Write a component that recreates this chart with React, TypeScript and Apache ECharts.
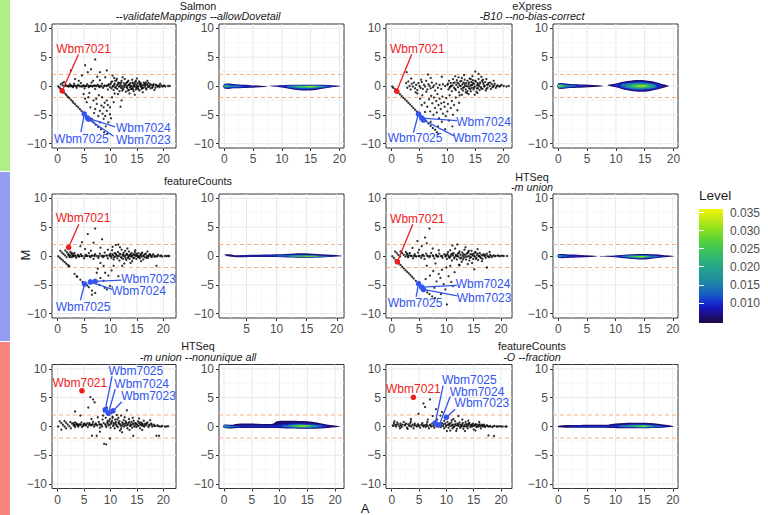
import React, { useEffect, useRef } from 'react';
import * as echarts from 'echarts';

const FONT = '"Liberation Sans", Arial, sans-serif';
const RED = '#ee1c1c';
const BLUE = '#3355ee';

// ---------- axis tick values ----------
const xTicks = [0, 5, 10, 15, 20];
const xMinor = [2.5, 7.5, 12.5, 17.5];
const yTicks = [-10, -5, 0, 5, 10];
const yMinor = [-7.5, -2.5, 2.5, 7.5];
const cutoffs = [2, -2];
const levelTicks = [0.01, 0.015, 0.02, 0.025, 0.03, 0.035];
const LEVEL_MIN = 0.0044;
const LEVEL_MAX = 0.036;
const levelStops: [number, string][] = [
  [0.0044, '#1d0b3e'], [0.0065, '#1e0e7e'], [0.0085, '#1515b8'], [0.0105, '#1638d2'],
  [0.013, '#1a66be'], [0.0155, '#1e86a6'], [0.018, '#229896'], [0.0205, '#27a984'],
  [0.023, '#33b96a'], [0.0255, '#45c84e'], [0.028, '#64d634'], [0.0305, '#8fe11f'],
  [0.033, '#bde915'], [0.036, '#f4f30a'],
];

// ---------- MA points (A, M) ----------
const salmonPts = [
  [0.1,-0.05],[0.3,-0.25],[0.5,-0.45],[0.7,-0.65],[1.0,-0.95],[1.2,-1.15],[1.5,-1.4],[1.7,-1.65],[2.0,-1.9],[2.2,-2.1],[2.5,-2.4],[2.8,-2.65],[3.0,-2.9],[3.3,-3.15],[3.6,-3.45],[3.9,-3.7],[4.2,-4.0],[4.5,-4.3],[4.8,-4.6],[5.3,-5.1],[5.6,-5.35],[6.0,-5.7],[6.4,-6.0],[6.8,-6.3],[7.2,-6.7],[7.7,-7.1],[8.2,-7.5],[8.8,-8.0],[9.4,-8.3],
  [0.6,0.3],[0.9,0.5],[1.2,0.7],[1.5,0.2],[1.8,0.0],[2.1,-0.1],[2.3,0.3],[2.6,0.1],[2.9,-0.2],[3.1,0.4],[3.4,0.0],[3.6,-0.3],[3.9,0.2],[4.1,0.0],[4.4,0.5],[4.6,-0.1],[4.9,0.1],[5.1,-0.4],[5.4,0.0],[5.6,0.3],[5.9,-0.2],[6.1,0.0],[6.4,0.6],[6.6,-0.1],[6.9,0.1],[7.1,-0.5],[7.4,0.0],[7.6,0.2],[7.9,-0.2],[8.1,0.0],[8.4,0.4],[8.6,-0.3],[8.9,0.1],[9.2,0.0],[9.5,-0.6],[9.7,0.3],[2.0,0.0],[3.0,0.0],[4.3,-0.05],[5.0,0.0],[6.2,0.05],[7.0,0.0],
  [2.5,2.7],[3.3,1.2],[4.6,1.8],[5.2,3.6],[5.7,2.4],[6.3,2.9],[7.1,4.6],[7.5,1.6],[8.0,2.4],[8.0,1.0],[9.0,1.5],[9.3,2.7],[11.2,1.25],[6.7,0.9],[4.0,0.9],[10.4,1.8],
  [4.9,-1.4],[5.8,-1.95],[6.8,-2.5],[7.1,-4.0],[8.0,-4.3],[8.7,-3.7],[9.3,-2.5],[9.9,-4.9],[7.7,-5.2],[8.7,-5.7],[9.3,-4.3],[7.4,-3.1],[6.2,-3.7],[5.5,-2.8],[9.9,-3.7],[10.3,-1.95],[8.4,-1.95],[9.0,-5.2],[9.6,-6.3],[10.6,-2.8],[6.5,-5.7],[8.0,-6.3],[6.0,-1.2],[7.8,-1.6],[8.9,-2.9],[9.5,-3.3],[7.3,-2.2],[10.1,-5.6],[6.9,-4.7],[8.3,-3.4],[12.1,-2.5],[11.9,-3.6],[10.8,-1.3],[5.2,-2.2],[9.1,-7.0],[8.5,-4.8],
  [10.0,0.3],[10.2,-0.4],[10.3,0.8],[10.5,0.0],[10.6,-0.7],[10.8,0.4],[10.9,-0.2],[11.1,1.0],[11.2,0.1],[11.3,-0.5],[11.5,0.6],[11.6,-0.1],[11.7,-0.9],[11.9,0.3],[12.0,-0.3],[12.1,0.9],[12.2,0.0],[12.4,-0.6],[12.5,0.5],[12.6,-0.2],[12.7,1.2],[12.8,0.2],[12.9,-1.0],[13.0,-0.1],[13.1,0.6],[13.2,-0.4],[13.3,0.1],[13.4,0.9],[13.5,-0.7],[13.6,0.3],[13.7,-0.2],[13.8,0.5],[13.9,-0.5],[14.0,0.0],[14.1,1.1],[14.2,-0.3],[14.3,0.4],[14.4,-0.9],[14.5,0.1],[14.6,-0.1],[14.7,0.7],[14.8,-0.6],[14.9,0.2],[15.0,-0.2],[15.1,0.5],[15.2,-0.4],[15.3,0.0],[15.4,0.8],[15.5,-0.8],[15.6,0.3],[15.7,-0.1],[15.8,0.4],[15.9,-0.5],[16.0,0.1],[16.2,-0.3],[16.3,0.6],[16.5,-0.1],[16.6,0.2],[16.8,-0.6],[16.9,0.3],[17.1,-0.2],[17.2,0.5],[17.4,0.0],[17.6,-0.4],[17.8,0.2],[18.0,-0.1],[18.2,0.3],[18.5,-0.3],[18.7,0.1],[19.0,0.0],[19.3,-0.2],[19.6,0.1],[20.0,0.0],[20.4,-0.1],[20.9,0.0],[12.3,1.5],[13.6,-1.3],[15.0,1.3],[16.1,-1.1],[11.4,-1.4],[17.0,0.9],[18.3,-0.7],[10.7,1.4],[14.6,-1.5],[19.4,0.4],
];
const salmonBandPts = [
  [9.6,0.1],[9.9,-0.2],[10.1,0.6],[10.4,-0.1],[10.7,0.2],[11.0,-0.3],[11.4,0.3],[11.8,0.0],[12.0,0.6],[12.3,-0.4],[12.6,0.1],[12.9,0.4],[13.1,-0.2],[13.3,-0.8],[13.5,0.2],[13.8,0.0],[14.0,-0.5],[14.2,0.6],[14.4,0.0],[14.6,0.4],[14.9,-0.3],[15.1,0.0],[15.3,-0.6],[15.6,0.6],[15.8,0.0],[16.0,-0.3],[16.3,0.2],[16.5,0.4],[16.7,-0.4],[17.0,0.1],[17.3,-0.1],[17.5,0.3],[17.9,-0.3],[18.1,0.1],[18.6,0.2],[18.9,-0.1],[19.2,0.1],[19.8,-0.1],[20.2,0.1],[21.2,0.0],[10.9,0.9],[12.2,-0.8],[13.2,0.7],[14.3,-0.6],[15.5,0.4],[16.7,0.6],[11.6,0.5],[14.8,0.9],
  [1.0,0.1],[1.4,0.0],[2.4,0.0],[2.7,-0.05],[3.2,0.1],[3.7,0.0],[4.7,0.05],[5.2,0.0],[5.8,0.0],[6.5,0.0],[7.2,0.05],[7.8,0.0],[8.3,-0.05],[8.8,0.0],[9.4,0.1],
];

const expressPts = [
  [0.1,-0.1],[0.3,-0.3],[0.6,-0.55],[0.9,-0.85],[1.2,-1.15],[1.5,-1.45],[1.8,-1.75],[2.1,-2.05],[2.4,-2.3],[2.7,-2.6],[3.0,-2.9],[3.3,-3.2],[3.6,-3.5],[3.9,-3.8],[4.2,-4.1],[4.5,-4.4],[5.2,-5.1],[5.5,-5.4],[5.9,-5.8],[6.2,-6.1],[6.6,-6.5],[7.0,-6.9],[7.4,-7.3],[7.8,-7.6],[8.1,-8.0],[8.4,-8.3],
  [2.6,0.5],[2.8,-0.3],[3.0,0.8],[3.2,0.0],[3.4,-0.6],[3.6,0.4],[3.8,-0.1],[4.0,0.6],[4.2,-0.4],[4.4,0.2],[4.6,-0.7],[4.8,0.5],[5.0,0.0],[5.2,-0.3],[5.4,0.7],[5.6,-0.5],[5.8,0.2],[6.0,-0.1],[6.2,0.9],[6.4,-0.6],[6.6,0.3],[6.8,0.0],[7.0,-0.4],[7.2,0.6],[7.4,-0.2],[7.6,0.1],[7.8,-0.8],[8.0,0.4],[8.3,-0.3],[8.6,0.2],[8.9,-0.5],[9.2,0.3],[9.6,0.0],[3.5,1.3],[5.3,1.1],[7.0,1.4],[4.3,-1.1],[2.7,2.4],[6.5,2.0],[9.0,1.6],
  [10.0,0.2],[10.2,-0.6],[10.3,0.9],[10.5,-0.1],[10.6,0.5],[10.8,-0.9],[10.9,0.1],[11.0,1.2],[11.2,-0.3],[11.3,0.6],[11.5,-0.7],[11.6,0.2],[11.7,1.0],[11.9,-0.2],[12.0,0.4],[12.1,-1.1],[12.3,0.8],[12.4,0.0],[12.5,-0.5],[12.6,1.4],[12.7,0.3],[12.8,-0.8],[12.9,0.6],[13.0,-0.2],[13.1,1.1],[13.2,0.1],[13.3,-0.6],[13.4,0.5],[13.5,-1.2],[13.6,0.9],[13.7,-0.1],[13.8,0.3],[13.9,-0.4],[14.0,1.3],[14.1,0.0],[14.2,-0.9],[14.3,0.7],[14.4,-0.3],[14.5,0.2],[14.6,1.0],[14.7,-0.6],[14.8,0.4],[14.9,-0.1],[15.0,2.5],[15.1,0.8],[15.2,-1.0],[15.3,0.1],[15.4,0.5],[15.5,-0.4],[15.6,1.2],[15.7,0.0],[15.8,-0.7],[15.9,0.6],[16.0,-0.2],[16.2,0.9],[16.3,-0.5],[16.5,0.3],[16.6,-0.1],[16.8,0.7],[16.9,-0.8],[17.1,0.2],[17.2,-0.3],[17.4,0.5],[17.6,0.0],[17.8,-0.5],[18.0,0.3],[18.2,-0.1],[18.5,0.4],[18.7,-0.3],[19.0,0.1],[19.3,-0.1],[19.7,0.2],[20.1,0.0],[20.6,-0.1],[21.0,0.0],[13.0,1.9],[14.5,1.7],[16.1,1.6],[12.2,-1.6],[14.9,-1.5],[17.0,1.2],[11.4,1.7],[15.6,2.1],[13.8,-1.4],[18.3,0.9],
  [4.6,-1.3],[5.1,-2.2],[5.5,-1.6],[5.9,-2.9],[6.2,-1.0],[6.4,-3.6],[6.7,-2.3],[6.9,-4.4],[7.1,-1.7],[7.3,-3.0],[7.5,-5.0],[7.6,-2.0],[7.8,-3.8],[8.0,-2.6],[8.1,-4.6],[8.2,-1.4],[8.4,-3.3],[8.5,-5.6],[8.6,-2.2],[8.8,-4.0],[8.9,-3.0],[9.0,-6.2],[9.1,-1.8],[9.2,-4.8],[9.4,-2.8],[9.5,-3.6],[9.7,-5.2],[9.8,-2.1],[10.0,-4.4],[10.1,-3.1],[10.3,-6.0],[10.4,-1.6],[10.6,-3.8],[10.8,-2.6],[11.0,-5.0],[11.2,-3.3],[11.5,-2.0],[11.8,-4.2],[12.1,-2.9],[7.0,-6.2],[8.3,-7.0],[9.6,-7.5],[6.0,-4.5],[5.4,-3.3],[10.9,-7.0],[12.6,-1.5],
];
const expressBandPts = [
  [10.1,0.4],[10.4,-0.3],[10.7,0.0],[11.1,0.5],[11.4,-0.5],[11.8,0.6],[12.2,0.1],[12.5,0.9],[12.8,-0.3],[13.1,0.4],[13.4,0.0],[13.6,-0.9],[13.9,0.6],[14.1,-0.5],[14.3,0.2],[14.6,0.5],[14.8,-0.3],[15.0,0.9],[15.3,-0.4],[15.5,0.2],[15.8,0.4],[16.1,-0.4],[16.4,0.6],[16.7,0.0],[17.0,-0.5],[17.3,0.3],[17.7,0.6],[18.1,-0.2],[18.4,0.1],[18.9,0.0],[19.5,0.0],[12.0,1.5],[14.2,1.2],[16.4,1.1],[13.3,-1.1],[15.4,-1.2],
];

const fcPts = [
  [0.5,0.9],[0.8,0.6],[1.1,0.35],[1.4,0.1],[1.7,-0.2],[1.45,0.95],[1.75,0.65],[2.05,0.4],[2.35,0.1],[2.65,-0.2],[2.4,0.75],[2.7,0.5],[3.0,0.3],[3.3,0.05],
  [0.1,-0.05],[0.4,-0.3],[0.7,-0.55],[1.0,-0.8],[1.3,-1.05],[1.6,-1.3],[1.9,-1.55],[2.2,-1.8],[3.2,-3.1],[3.7,-3.6],[4.3,-4.1],[4.7,-4.5],[5.6,-5.1],[6.5,-6.0],[7.1,-6.4],[5.9,-5.4],
  [2.0,0.2],[2.3,-0.2],[2.6,0.4],[2.9,0.0],[3.2,0.5],[3.5,-0.3],[3.8,0.2],[4.1,-0.1],[4.4,0.3],[4.7,0.0],[5.0,-0.4],[5.3,0.2],[5.6,0.0],[5.9,0.5],[6.2,-0.2],[6.5,0.1],[6.8,-0.5],[7.1,0.3],[7.4,0.0],[7.7,-0.3],[8.0,0.4],[8.3,0.0],[8.6,-0.2],[8.9,0.6],[9.2,0.1],[9.5,-0.4],[9.8,0.2],[3.0,-0.05],[4.0,0.05],[5.2,-0.05],[6.0,0.0],[7.0,0.0],[8.5,0.05],
  [7.1,4.75],[5.7,3.8],[4.6,2.4],[4.3,1.7],[6.8,2.3],[8.1,1.45],[8.4,2.9],[5.2,1.2],[9.5,1.1],[6.3,0.9],
  [2.1,-1.7],[8.1,-1.2],[8.7,-1.7],[9.0,-2.9],[7.4,-2.9],[8.1,-3.8],[8.7,-4.3],[9.3,-5.8],[9.9,-5.2],[6.5,-6.7],[18.7,-1.7],[11.5,-3.5],[10.6,-1.7],[3.6,-3.5],[7.6,-2.2],[9.6,-3.4],[10.2,-2.5],[7.9,-5.0],[8.9,-5.5],[6.1,-4.4],
  [10.0,0.4],[10.2,-0.3],[10.3,1.0],[10.5,0.1],[10.6,-0.6],[10.8,0.5],[10.9,-0.1],[11.0,1.9],[11.1,0.2],[11.3,-0.4],[11.4,0.7],[11.6,0.0],[11.7,-0.8],[11.9,0.3],[12.0,-0.2],[12.1,1.1],[12.3,0.1],[12.4,-0.5],[12.5,0.6],[12.7,-0.1],[12.8,0.9],[12.9,0.2],[13.0,-0.7],[13.1,0.4],[13.3,-0.3],[13.4,0.0],[13.5,0.8],[13.6,-0.5],[13.7,0.2],[13.9,-0.1],[14.0,0.5],[14.1,-0.9],[14.2,0.1],[14.4,0.3],[14.5,-0.3],[14.6,0.7],[14.8,0.0],[14.9,-0.5],[15.0,0.2],[15.2,-0.2],[15.3,0.5],[15.4,0.0],[15.6,-0.4],[15.7,0.3],[15.9,-0.1],[16.0,0.6],[16.2,-0.6],[16.3,0.1],[16.5,-0.2],[16.7,0.4],[16.9,0.0],[17.1,-0.3],[17.3,0.2],[17.6,0.0],[17.8,-0.2],[18.1,0.3],[18.4,0.0],[18.7,-0.1],[19.0,0.2],[19.4,0.0],[19.8,-0.1],[20.3,0.0],[20.9,0.0],[11.8,1.5],[13.2,1.3],[12.6,-1.3],[14.7,1.0],[15.8,-0.9],[10.4,1.6],[12.2,-1.7],[11.5,2.0],[13.8,-1.2],[17.0,0.8],
];
const fcBandPts = [
  [10.1,0.0],[10.4,0.3],[10.7,-0.2],[11.0,0.4],[11.3,0.0],[11.7,0.4],[12.1,-0.3],[12.4,0.3],[12.6,0.0],[12.9,-0.4],[13.2,0.2],[13.5,-0.1],[13.8,0.3],[14.1,0.0],[14.3,-0.4],[14.6,0.2],[14.9,0.4],[15.1,0.0],[15.4,-0.2],[15.7,0.1],[15.9,0.4],[16.2,0.0],[16.5,0.3],[16.8,-0.3],[17.2,0.0],[17.5,0.3],[17.9,0.1],[18.3,-0.1],[18.9,0.0],[19.6,0.1],[20.6,0.0],[21.1,0.0],
  [2.2,0.0],[2.8,0.1],[3.4,0.0],[3.9,-0.05],[4.5,0.0],[5.5,0.05],[6.4,0.0],[6.9,0.1],[7.8,0.0],[8.8,0.0],[9.4,0.05],[9.9,0.0],
];

const htseqPts = [
  [0.1,-0.05],[0.4,-0.35],[0.7,-0.7],[1.0,-1.0],[1.3,-1.3],[1.6,-1.55],[1.9,-1.85],[2.2,-2.15],[2.5,-2.45],[2.8,-2.75],[3.1,-3.0],[3.4,-3.3],[3.7,-3.6],[4.0,-3.9],[4.4,-4.3],[5.3,-5.2],[5.7,-5.6],[6.1,-5.9],[6.5,-6.3],[6.9,-6.6],[7.4,-7.0],[7.9,-7.3],
  [0.6,0.8],[0.9,0.5],[1.2,0.2],[1.5,-0.1],[1.6,0.8],[1.9,0.5],[2.2,0.2],[2.5,-0.1],[2.6,0.7],[2.9,0.4],[3.2,0.1],
  [2.7,0.3],[3.0,-0.2],[3.3,0.5],[3.6,0.0],[3.9,-0.4],[4.2,0.3],[4.5,-0.1],[4.8,0.6],[5.1,0.0],[5.4,-0.3],[5.7,0.2],[6.0,-0.5],[6.3,0.4],[6.6,0.0],[6.9,-0.2],[7.2,0.5],[7.5,0.1],[7.8,-0.4],[8.1,0.2],[8.4,-0.1],[8.7,0.4],[9.0,0.0],[9.3,-0.3],[9.6,0.3],[9.9,-0.1],[4.0,0.0],[5.5,0.05],[7.0,0.0],[8.5,-0.05],
  [6.9,4.75],[4.7,2.6],[5.5,1.7],[6.1,3.2],[5.0,1.1],[7.5,1.3],[8.6,1.0],[3.8,1.4],[6.4,2.2],
  [6.4,-1.7],[7.6,-2.6],[8.9,-3.8],[10.4,-3.5],[9.5,-4.9],[10.1,-8.4],[10.7,-1.7],[17.4,-2.0],[7.0,-3.4],[8.2,-4.4],[9.2,-2.4],[9.8,-5.8],[8.0,-1.3],[10.9,-4.5],[6.2,-4.0],[7.8,-5.5],[9.0,-6.6],[11.5,-2.8],[8.6,-3.1],[10.0,-2.0],[11.2,-5.2],[12.4,-1.6],
  [10.0,0.2],[10.1,-0.5],[10.3,0.7],[10.4,0.0],[10.6,-0.3],[10.7,1.0],[10.9,0.3],[11.0,-0.8],[11.2,0.1],[11.3,0.5],[11.5,-0.2],[11.6,1.3],[11.8,0.0],[11.9,-0.6],[12.1,0.4],[12.2,-0.1],[12.4,0.8],[12.5,-0.4],[12.6,0.2],[12.8,-1.0],[12.9,0.6],[13.0,0.0],[13.2,-0.3],[13.3,1.1],[13.4,0.2],[13.6,-0.6],[13.7,0.4],[13.8,-0.1],[14.0,0.7],[14.1,0.0],[14.2,-0.8],[14.4,0.3],[14.5,-0.2],[14.6,0.9],[14.8,0.1],[14.9,-0.5],[15.0,0.4],[15.2,-0.1],[15.3,0.6],[15.5,-0.3],[15.6,0.2],[15.8,-0.7],[15.9,0.0],[16.1,0.5],[16.2,-0.2],[16.4,0.2],[16.6,-0.5],[16.8,0.3],[17.0,0.0],[17.2,-0.3],[17.4,0.4],[17.7,-0.1],[18.0,0.2],[18.3,-0.2],[18.6,0.1],[19.0,0.0],[19.4,0.1],[19.9,0.0],[20.5,0.0],[21.1,0.0],[11.1,1.8],[12.3,-1.5],[13.5,1.5],[14.7,-1.2],[15.7,1.2],[16.5,-0.9],[12.0,2.0],[13.9,-1.4],[17.9,0.7],[15.1,-2.3],
];
const htseqBandPts = [
  [10.2,0.3],[10.5,-0.2],[10.8,0.0],[11.1,0.4],[11.4,-0.4],[11.7,0.2],[12.0,0.0],[12.3,0.5],[12.7,-0.3],[13.1,0.3],[13.5,-0.1],[13.9,0.5],[14.3,-0.3],[14.7,0.3],[15.1,0.0],[15.4,-0.5],[15.7,0.4],[16.0,0.0],[16.3,-0.3],[16.7,0.1],[17.1,0.2],[17.5,0.0],[17.8,-0.2],[18.2,0.0],[18.8,0.0],[19.6,0.0],[20.2,0.05],[13.0,-0.6],[14.1,0.9],[15.3,0.7],
  [2.9,0.0],[3.5,0.05],[4.3,0.0],[4.9,0.0],[5.9,0.0],[6.5,0.05],[7.6,0.0],[8.2,0.0],[9.2,0.0],[9.8,0.0],
];

const htseqNuPts = [
  [0.4,0.9],[0.7,0.6],[1.0,0.3],[1.3,0.0],[1.6,-0.3],[1.3,0.95],[1.6,0.65],[1.9,0.35],[2.2,0.05],[2.5,-0.3],[2.4,0.8],[2.7,0.5],[3.0,0.2],[3.3,-0.1],[3.3,0.7],[3.6,0.4],[3.9,0.15],[0.1,0.0],[0.7,-0.55],
  [3.0,0.6],[3.3,0.2],[3.6,0.5],[3.9,0.0],[4.2,0.4],[4.5,0.7],[4.8,0.1],[5.1,0.5],[5.4,0.3],[5.7,-0.1],[6.0,0.6],[6.3,0.2],[6.6,0.4],[6.9,0.0],[7.2,0.5],[7.5,0.2],[7.8,0.8],[8.1,0.3],[8.4,0.0],[8.7,0.6],[4.0,0.3],[5.0,0.3],[6.1,0.35],[7.0,0.3],[5.6,0.55],[4.6,-0.1],[6.7,0.8],[8.0,-0.2],
  [6.2,5.1],[6.7,4.7],[7.0,4.2],[5.8,3.3],[3.3,2.6],[4.3,1.9],[13.1,2.8],[8.6,1.9],[8.8,2.6],[9.1,1.5],[9.3,3.3],[9.7,2.0],[9.9,1.3],[10.2,2.4],[10.4,1.7],[10.7,2.9],[10.9,1.2],[11.2,2.0],[11.5,1.5],[8.5,1.2],[9.5,1.0],[12.0,1.9],[7.6,1.6],[6.4,1.3],
  [6.5,-1.6],[7.4,-1.6],[8.8,-3.0],[9.2,-3.1],[9.9,-2.1],[14.3,-1.6],[18.7,-1.6],[19.2,-1.6],[8.0,-0.9],[12.2,-1.0],
  [9.0,0.4],[9.2,-0.1],[9.4,0.7],[9.6,0.2],[9.8,0.9],[10.0,-0.2],[10.1,0.5],[10.3,1.0],[10.5,0.1],[10.6,0.6],[10.8,-0.3],[11.0,0.8],[11.1,0.3],[11.3,1.2],[11.4,-0.1],[11.6,0.5],[11.7,0.9],[11.9,0.2],[12.0,-0.4],[12.2,0.7],[12.3,0.3],[12.5,1.1],[12.6,0.0],[12.8,0.5],[12.9,0.9],[13.1,0.2],[13.2,-0.3],[13.4,0.6],[13.5,1.3],[13.7,0.1],[13.8,0.4],[14.0,0.8],[14.1,-0.2],[14.3,0.5],[14.4,1.0],[14.6,0.2],[14.7,0.6],[14.9,-0.1],[15.0,0.4],[15.2,0.9],[15.3,0.1],[15.5,0.5],[15.6,-0.3],[15.8,0.7],[15.9,0.2],[16.1,0.4],[16.3,1.0],[16.4,0.0],[16.6,0.5],[16.8,0.2],[17.0,0.7],[17.2,-0.1],[17.4,0.3],[17.7,0.5],[17.9,0.0],[18.2,0.3],[18.5,0.1],[18.9,0.2],[19.3,0.0],[19.8,0.1],[20.3,0.0],[20.9,0.05],[12.7,1.6],[14.2,1.5],[11.8,-0.7],[15.4,1.4],[13.6,-0.6],[16.0,-0.6],[10.4,1.5],[17.5,1.1],
];
const htseqNuBandPts = [
  [9.1,0.2],[9.5,0.5],[9.9,0.3],[10.2,0.7],[10.6,0.3],[10.9,0.5],[11.2,0.1],[11.5,0.7],[11.8,0.4],[12.1,0.0],[12.4,0.5],[12.7,0.2],[13.0,0.6],[13.3,0.3],[13.6,0.8],[13.9,0.2],[14.2,0.4],[14.5,0.0],[14.8,0.5],[15.1,0.2],[15.4,0.7],[15.7,0.3],[16.0,0.5],[16.2,0.1],[16.5,0.3],[16.9,0.5],[17.3,0.2],[17.8,0.3],[18.3,0.1],[19.0,0.1],[19.6,0.0],[20.6,0.0],
  [3.1,0.3],[3.7,0.3],[4.4,0.3],[4.9,0.4],[5.3,0.2],[5.9,0.3],[6.5,0.3],[7.3,0.3],[7.9,0.4],[8.3,0.3],
];

const fcFracPts = [
  [0.2,0.2],[0.4,0.6],[0.6,0.3],[0.8,0.0],[1.0,0.7],[1.2,0.4],[1.4,0.1],[1.6,0.5],[1.8,-0.1],[2.0,0.3],[2.2,0.8],[2.4,0.2],[2.6,0.5],[2.8,-0.2],[3.0,0.4],[3.2,0.1],[3.4,0.6],[3.6,0.0],[3.8,0.3],[4.0,-0.3],[4.2,0.5],[4.4,0.2],[4.6,0.0],[4.8,0.4],[5.0,0.1],[5.2,-0.2],[5.4,0.3],[5.6,0.6],[5.8,0.0],[6.0,0.2],[6.2,-0.1],[6.4,0.4],[6.6,0.1],[6.8,-0.3],[7.0,0.3],[7.2,0.0],[7.4,0.5],[7.6,0.1],[7.8,-0.2],[8.0,0.4],[8.3,0.0],[8.6,0.2],[0.5,0.9],[1.5,-0.3],[3.5,0.9],[6.5,0.8],[2.9,-0.4],
  [5.8,4.0],[6.1,3.4],[7.0,4.7],[8.1,3.0],[4.9,2.2],[9.2,2.5],[3.5,1.3],[7.5,1.8],[8.3,1.2],[8.9,1.9],[9.6,1.0],[10.3,1.6],[11.0,1.1],[6.6,1.2],[12.2,1.8],
  [17.7,-1.55],[18.7,-1.65],[10.7,-0.7],[11.8,-0.8],[15.3,-0.7],
  [8.8,0.3],[9.0,-0.1],[9.2,0.6],[9.4,0.1],[9.6,-0.3],[9.8,0.5],[10.0,0.2],[10.2,0.8],[10.4,-0.2],[10.5,0.4],[10.7,0.1],[10.9,0.7],[11.1,-0.3],[11.2,0.3],[11.4,0.0],[11.6,0.9],[11.7,0.2],[11.9,-0.4],[12.0,0.5],[12.2,0.1],[12.4,0.7],[12.5,-0.2],[12.7,0.3],[12.8,0.0],[13.0,0.6],[13.1,-0.4],[13.3,0.2],[13.5,0.8],[13.6,0.0],[13.8,0.4],[13.9,-0.3],[14.1,0.2],[14.2,0.6],[14.4,-0.1],[14.6,0.3],[14.7,0.0],[14.9,0.5],[15.0,-0.5],[15.2,0.2],[15.4,0.4],[15.5,-0.1],[15.7,0.3],[15.9,0.0],[16.1,0.4],[16.3,-0.3],[16.5,0.2],[16.7,0.0],[16.9,0.3],[17.1,-0.1],[17.4,0.2],[17.7,0.0],[18.0,0.1],[18.4,-0.1],[18.8,0.1],[19.2,0.0],[19.7,0.05],[20.3,0.0],[20.8,0.0],[11.3,1.3],[12.9,1.2],[14.0,1.0],[10.1,-0.8],[13.4,-0.8],[16.0,0.8],
];
const fcFracBandPts = [
  [9.1,0.2],[9.5,0.4],[9.9,0.0],[10.3,0.3],[10.6,0.5],[11.0,0.2],[11.3,-0.1],[11.6,0.4],[12.0,0.2],[12.3,0.4],[12.6,0.1],[12.9,0.3],[13.2,0.0],[13.5,0.4],[13.8,0.1],[14.1,0.5],[14.4,0.2],[14.7,0.3],[15.0,0.1],[15.3,0.3],[15.6,0.0],[16.0,0.2],[16.3,0.1],[16.6,0.3],[17.0,0.1],[17.5,0.1],[18.0,0.0],[18.6,0.05],[19.4,0.0],[20.0,0.0],[21.0,0.0],
  [0.3,0.1],[0.9,0.3],[1.7,0.2],[2.5,0.3],[3.3,0.2],[4.1,0.2],[4.9,0.2],[5.7,0.2],[6.3,0.2],[7.1,0.2],[7.9,0.2],[8.4,0.2],
];

// ---------- labelled genes: point (a,m), label centre (la,lm), segment start (sa,sm) ----------
type Lab = { gene: string; a: number; m: number; la: number; lm: number; sa: number | null; sm: number | null; color: string };
const salmonLabels: Lab[] = [
  { gene: 'Wbm7021', a: 0.85, m: -0.85, la: 4.9, lm: 6.5, sa: 3.95, sm: 5.5, color: RED },
  { gene: 'Wbm7025', a: 5.04, m: -4.86, la: 4.5, lm: -9.15, sa: 4.4, sm: -8.0, color: BLUE },
  { gene: 'Wbm7024', a: 5.66, m: -5.56, la: 16.2, lm: -7.3, sa: 10.9, sm: -7.1, color: BLUE },
  { gene: 'Wbm7023', a: 5.85, m: -5.75, la: 16.2, lm: -9.3, sa: 10.6, sm: -8.7, color: BLUE },
];
const expressLabels: Lab[] = [
  { gene: 'Wbm7021', a: 0.9, m: -0.9, la: 4.6, lm: 6.5, sa: 3.6, sm: 5.5, color: RED },
  { gene: 'Wbm7025', a: 4.8, m: -4.86, la: 4.2, lm: -9.1, sa: 3.9, sm: -8.1, color: BLUE },
  { gene: 'Wbm7024', a: 5.4, m: -5.56, la: 16.5, lm: -6.3, sa: 11.7, sm: -6.0, color: BLUE },
  { gene: 'Wbm7023', a: 5.7, m: -5.9, la: 15.9, lm: -8.95, sa: 11.2, sm: -8.65, color: BLUE },
];
const fcLabels: Lab[] = [
  { gene: 'Wbm7021', a: 2.08, m: 1.5, la: 4.8, lm: 6.6, sa: 4.0, sm: 5.5, color: RED },
  { gene: 'Wbm7025', a: 5.1, m: -4.85, la: 4.8, lm: -8.85, sa: 4.3, sm: -7.7, color: BLUE },
  { gene: 'Wbm7023', a: 7.1, m: -4.4, la: 17.2, lm: -4.0, sa: 12.1, sm: -4.2, color: BLUE },
  { gene: 'Wbm7024', a: 6.2, m: -4.5, la: 15.3, lm: -6.1, sa: 10.3, sm: -5.8, color: BLUE },
];
const htseqLabels: Lab[] = [
  { gene: 'Wbm7021', a: 1.03, m: -1.0, la: 4.7, lm: 6.5, sa: 3.85, sm: 5.5, color: RED },
  { gene: 'Wbm7025', a: 4.9, m: -4.8, la: 4.25, lm: -8.1, sa: 4.46, sm: -7.1, color: BLUE },
  { gene: 'Wbm7024', a: 5.5, m: -5.4, la: 16.7, lm: -4.85, sa: 11.9, sm: -5.1, color: BLUE },
  { gene: 'Wbm7023', a: 5.8, m: -5.8, la: 16.9, lm: -7.3, sa: 12.0, sm: -6.9, color: BLUE },
];
const htseqNuLabels: Lab[] = [
  { gene: 'Wbm7021', a: 4.6, m: 6.2, la: 4.2, lm: 7.55, sa: null, sm: null, color: RED },
  { gene: 'Wbm7025', a: 9.0, m: 2.9, la: 14.8, lm: 9.6, sa: 10.3, sm: 8.7, color: BLUE },
  { gene: 'Wbm7024', a: 9.6, m: 2.3, la: 15.9, lm: 7.4, sa: 10.9, sm: 6.5, color: BLUE },
  { gene: 'Wbm7023', a: 10.45, m: 2.7, la: 17.2, lm: 5.3, sa: 12.15, sm: 4.3, color: BLUE },
];
const fcFracLabels: Lab[] = [
  { gene: 'Wbm7021', a: 3.96, m: 5.06, la: 3.96, lm: 6.5, sa: null, sm: null, color: RED },
  { gene: 'Wbm7025', a: 7.95, m: 0.6, la: 14.2, lm: 8.1, sa: 9.4, sm: 7.1, color: BLUE },
  { gene: 'Wbm7024', a: 8.7, m: 0.26, la: 15.6, lm: 6.05, sa: 10.7, sm: 5.2, color: BLUE },
  { gene: 'Wbm7023', a: 10.0, m: 1.6, la: 16.5, lm: 4.0, sa: 11.6, sm: 3.0, color: BLUE },
];

// ---------- density contour bands: [level, outline (A, M)] ----------
type Band = [number, number[][]];
const salmonDensity: Band[] = [
  [0.006, [[0,0.35],[2,0.3],[4.5,0.15],[7.4,-0.05],[7.4,-0.12],[4.5,-0.3],[2,-0.4],[0,-0.42]]],
  [0.0095, [[0,0.28],[2,0.2],[4,0.05],[5.5,-0.08],[5.5,-0.15],[4,-0.25],[2,-0.32],[0,-0.35]]],
  [0.014, [[0,0.2],[1.5,0.12],[3,0.0],[3,-0.12],[1.5,-0.22],[0,-0.27]]],
  [0.019, [[0,0.12],[1.3,0.02],[1.3,-0.1],[0,-0.17]]],
  [0.024, [[0.1,0.06],[0.8,-0.02],[0.1,-0.1]]],
  [0.006, [[7.9,0.05],[10,0.15],[13,0.2],[16,0.2],[18.5,0.15],[20.1,0.05],[20.1,-0.05],[18,-0.3],[15.5,-0.72],[13,-0.75],[11,-0.45],[9,-0.15],[7.9,0.0]]],
  [0.0095, [[9.5,0.05],[12,0.13],[15,0.15],[17.5,0.1],[19,0.0],[19,-0.12],[17,-0.35],[15,-0.6],[13,-0.6],[11,-0.35],[9.5,-0.05]]],
  [0.014, [[11,0.05],[13.5,0.1],[16,0.08],[18,0.0],[18,-0.15],[16,-0.4],[13.5,-0.45],[11,-0.2]]],
  [0.019, [[12,0.0],[14.5,0.05],[17,0.0],[17,-0.15],[15,-0.35],[12.5,-0.3]]],
  [0.025, [[13,-0.05],[15,0.0],[16.5,-0.08],[16.5,-0.15],[15,-0.28],[13,-0.2]]],
  [0.031, [[14,-0.08],[15.3,-0.05],[16,-0.12],[15,-0.22]]],
];
const expressDensity: Band[] = [
  [0.006, [[0,0.45],[2,0.35],[4.5,0.25],[7.7,0.05],[7.7,-0.05],[4.5,-0.25],[2,-0.35],[0,-0.45]]],
  [0.0095, [[0,0.38],[2,0.25],[4,0.12],[5.5,0.02],[5.5,-0.06],[4,-0.15],[2,-0.28],[0,-0.38]]],
  [0.014, [[0,0.3],[1.5,0.18],[3,0.05],[3,-0.07],[1.5,-0.2],[0,-0.3]]],
  [0.019, [[0,0.23],[1.5,0.05],[1.5,-0.1],[0,-0.23]]],
  [0.025, [[0,0.16],[1,0.03],[0,-0.16]]],
  [0.031, [[0,0.1],[0.6,0.0],[0,-0.1]]],
  [0.006, [[8.6,0.2],[10,0.45],[12,0.85],[14,1.05],[16,0.85],[18,0.35],[19.2,0.05],[19.2,-0.05],[18,-0.4],[16,-0.85],[14,-1.0],[12,-0.75],[10,-0.2],[8.6,0.1]]],
  [0.0095, [[9.8,0.25],[12,0.6],[14,0.8],[16,0.62],[18,0.15],[18,-0.2],[16,-0.65],[14,-0.8],[12,-0.55],[9.8,-0.05]]],
  [0.014, [[11,0.3],[13,0.55],[15,0.55],[17,0.2],[17,-0.25],[15,-0.55],[13,-0.55],[11,-0.15]]],
  [0.019, [[11.8,0.2],[13.5,0.4],[15.5,0.35],[16.7,0.05],[16.7,-0.2],[15,-0.4],[13,-0.4],[11.8,-0.1]]],
  [0.025, [[12.7,0.1],[14,0.25],[15.8,0.15],[15.8,-0.15],[14,-0.3],[12.7,-0.1]]],
  [0.031, [[13.5,0.05],[14.5,0.12],[15.3,0.05],[14.5,-0.18]]],
];
const fcDensity: Band[] = [
  [0.006, [[1.4,0.3],[2.5,0.28],[3.2,0.15],[6,0.2],[10,0.3],[13,0.45],[16,0.4],[19,0.2],[20.8,0.05],[20.8,-0.05],[18,-0.2],[15,-0.3],[12,-0.25],[8,-0.18],[4,-0.2],[2.5,-0.15],[1.4,0.15]]],
  [0.0095, [[3.5,0.05],[7,0.1],[11,0.2],[14,0.25],[17,0.15],[19.5,0.02],[19.5,-0.1],[17,-0.2],[14,-0.22],[11,-0.15],[7,-0.1],[3.5,-0.08]]],
  [0.014, [[10,0.08],[13,0.13],[16,0.1],[18.5,0.0],[18.5,-0.1],[16,-0.18],[13,-0.16],[10,-0.05]]],
  [0.019, [[12,0.05],[14.5,0.08],[17.5,0.0],[17.5,-0.1],[14.5,-0.15],[12,-0.05]]],
  [0.025, [[13,0.02],[15,0.04],[17,-0.02],[17,-0.08],[15,-0.12],[13,-0.05]]],
  [0.031, [[14.2,0.0],[15.2,0.01],[16.2,-0.04],[15.2,-0.08]]],
];
const htseqDensity: Band[] = [
  [0.006, [[0,0.3],[2,0.25],[4.5,0.15],[6.7,0.0],[6.7,-0.08],[4.5,-0.22],[2,-0.3],[0,-0.3]]],
  [0.0095, [[0,0.22],[2,0.15],[4,0.05],[4,-0.1],[2,-0.2],[0,-0.22]]],
  [0.014, [[0,0.14],[1.5,0.05],[1.5,-0.08],[0,-0.14]]],
  [0.019, [[0,0.07],[0.8,0.0],[0,-0.07]]],
  [0.006, [[7.3,0.0],[10,0.1],[12,0.25],[14,0.35],[16.5,0.3],[18.5,0.15],[20.1,0.0],[20.1,-0.08],[18,-0.25],[16,-0.5],[14,-0.6],[12,-0.45],[10,-0.2],[7.3,-0.08]]],
  [0.0095, [[9.5,0.02],[12,0.15],[14,0.22],[16.5,0.15],[18.5,0.0],[18.5,-0.15],[16,-0.4],[14,-0.48],[12,-0.33],[9.5,-0.1]]],
  [0.014, [[11,0.03],[13.5,0.12],[16,0.07],[17.5,-0.03],[17.5,-0.15],[15.5,-0.35],[13.5,-0.38],[11,-0.15]]],
  [0.019, [[12,0.0],[14,0.05],[16,0.0],[16,-0.2],[14,-0.3],[12,-0.15]]],
  [0.025, [[12.8,-0.05],[14.3,0.0],[15.6,-0.08],[15.6,-0.18],[14.3,-0.25],[12.8,-0.15]]],
  [0.031, [[13.6,-0.08],[14.5,-0.05],[15.2,-0.12],[14.4,-0.2]]],
];
const htseqNuDensity: Band[] = [
  [0.006, [[0,0.3],[1.6,0.3],[2,0.45],[5,0.5],[8.3,0.42],[8.9,0.5],[9.5,0.9],[12,1.0],[15,0.9],[16.7,0.7],[18.5,0.35],[20.8,0.05],[20.8,-0.05],[18,-0.3],[15,-0.4],[12,-0.35],[9,-0.25],[6,-0.25],[3,-0.25],[0,-0.28]]],
  [0.0095, [[0,0.22],[1.8,0.15],[5,0.2],[8.5,0.2],[10,0.35],[13,0.55],[16,0.45],[18.5,0.15],[18.5,-0.15],[15,-0.3],[12,-0.28],[9,-0.15],[5,-0.15],[1.8,-0.18],[0,-0.22]]],
  [0.014, [[0,0.16],[1.5,0.07],[3,0.0],[1.5,-0.12],[0,-0.16]]],
  [0.014, [[10.5,0.15],[13,0.4],[16,0.3],[17.8,0.05],[16,-0.2],[13,-0.22],[10.5,-0.05]]],
  [0.019, [[0,0.1],[1,0.02],[0,-0.1]]],
  [0.019, [[11.5,0.12],[13.5,0.3],[16,0.2],[17,0.02],[15,-0.15],[12.5,-0.12]]],
  [0.025, [[12.3,0.12],[14,0.25],[15.8,0.12],[14.5,-0.08],[12.8,-0.02]]],
  [0.031, [[13.2,0.1],[14.3,0.18],[15.3,0.1],[14.3,0.0]]],
];
const fcFracDensity: Band[] = [
  [0.006, [[0,0.15],[3,0.25],[6,0.3],[8.7,0.32],[10,0.5],[13,0.65],[16,0.6],[18.7,0.3],[20.1,0.05],[20.1,-0.05],[18,-0.2],[15,-0.3],[12,-0.3],[9,-0.25],[6,-0.23],[3,-0.2],[0,-0.15]]],
  [0.0095, [[2,0.1],[5,0.15],[8.5,0.15],[11,0.3],[14,0.42],[17,0.3],[18.8,0.05],[18.8,-0.1],[16,-0.22],[13,-0.22],[10,-0.15],[6,-0.13],[2,-0.08]]],
  [0.014, [[10.5,0.15],[13,0.3],[16,0.25],[18,0.05],[18,-0.1],[15.5,-0.17],[12.5,-0.15],[10.5,-0.03]]],
  [0.019, [[11.8,0.12],[14,0.25],[16.5,0.15],[16.5,-0.05],[14,-0.12],[11.8,-0.02]]],
  [0.025, [[12.8,0.1],[14.5,0.18],[16.2,0.08],[14.5,-0.05]]],
  [0.031, [[13.8,0.07],[14.8,0.12],[15.6,0.06],[14.8,0.0]]],
];

// ---------- layout ----------
const colLeft = [52, 219, 386, 553];
const colWidth = [124, 125, 126, 125];
const rowTop = [24, 194, 364.5];
const PANEL_H = 124;
const Y_RANGE = [-10.75, 10.75];

type Panel = { kind: 'scatter' | 'density'; col: number; row: number; xr: number[]; pts?: number[][]; labels?: Lab[]; bands?: Band[] };
const panels: Panel[] = [
  { kind: 'scatter', col: 0, row: 0, xr: [-1.07, 22.4], pts: salmonPts.concat(salmonBandPts), labels: salmonLabels },
  { kind: 'density', col: 1, row: 0, xr: [-0.92, 20.8], bands: salmonDensity },
  { kind: 'scatter', col: 2, row: 0, xr: [-1.02, 21.6], pts: expressPts.concat(expressBandPts), labels: expressLabels },
  { kind: 'density', col: 3, row: 0, xr: [-0.95, 20.8], bands: expressDensity },
  { kind: 'scatter', col: 0, row: 1, xr: [-1.07, 22.4], pts: fcPts.concat(fcBandPts), labels: fcLabels },
  { kind: 'density', col: 1, row: 1, xr: [0.43, 21.2], bands: fcDensity },
  { kind: 'scatter', col: 2, row: 1, xr: [-1.05, 22.0], pts: htseqPts.concat(htseqBandPts), labels: htseqLabels },
  { kind: 'density', col: 3, row: 1, xr: [-0.93, 20.9], bands: htseqDensity },
  { kind: 'scatter', col: 0, row: 2, xr: [-1.07, 22.4], pts: htseqNuPts.concat(htseqNuBandPts), labels: htseqNuLabels },
  { kind: 'density', col: 1, row: 2, xr: [-0.9, 21.6], bands: htseqNuDensity },
  { kind: 'scatter', col: 2, row: 2, xr: [-1.05, 22.0], pts: fcFracPts.concat(fcFracBandPts), labels: fcFracLabels },
  { kind: 'density', col: 3, row: 2, xr: [-0.93, 20.9], bands: fcFracDensity },
];

const titles = [
  { x: 198, y: 5.5, text: 'Salmon', italic: false },
  { x: 198, y: 15.5, text: '--validateMappings --allowDovetail', italic: true },
  { x: 532, y: 5.5, text: 'eXpress', italic: false },
  { x: 532, y: 15.5, text: '-B10 --no-bias-correct', italic: true },
  { x: 198, y: 181, text: 'featureCounts', italic: false },
  { x: 532, y: 177, text: 'HTSeq', italic: false },
  { x: 532, y: 187, text: '-m union', italic: true },
  { x: 198, y: 345.5, text: 'HTSeq', italic: false },
  { x: 198, y: 356.5, text: '-m union --nonunique all', italic: true },
  { x: 532, y: 346, text: 'featureCounts', italic: false },
  { x: 532, y: 357, text: '-O --fraction', italic: true },
];

function hexToRgb(h: string) {
  const n = parseInt(h.slice(1), 16);
  return [(n >> 16) & 255, (n >> 8) & 255, n & 255];
}
function levelColor(v: number) {
  if (v <= levelStops[0][0]) return levelStops[0][1];
  for (let i = 1; i < levelStops.length; i++) {
    if (v <= levelStops[i][0]) {
      const [v0, c0] = levelStops[i - 1];
      const [v1, c1] = levelStops[i];
      const t = (v - v0) / (v1 - v0);
      const a = hexToRgb(c0), b = hexToRgb(c1);
      const c = a.map((x, k) => Math.round(x + (b[k] - x) * t));
      return `rgb(${c[0]},${c[1]},${c[2]})`;
    }
  }
  return levelStops[levelStops.length - 1][1];
}

const fmtNum = (v: number) => (v < 0 ? '\u2212' + Math.abs(v) : String(v));

function buildOption() {
  const grid: any[] = [];
  const xAxis: any[] = [];
  const yAxis: any[] = [];
  const series: any[] = [];

  const gridLineData: number[][] = [
    ...xMinor.map((v) => [v, 0, 0]),
    ...yMinor.map((v) => [v, 1, 0]),
    ...xTicks.map((v) => [v, 0, 1]),
    ...yTicks.map((v) => [v, 1, 1]),
    ...cutoffs.map((v) => [v, 1, 2]),
  ];

  panels.forEach((p, i) => {
    grid.push({
      left: colLeft[p.col], top: rowTop[p.row], width: colWidth[p.col], height: PANEL_H,
      show: true, backgroundColor: '#ffffff', borderColor: '#333333', borderWidth: 1,
      containLabel: false, outerBoundsMode: 'none',
    });
    xAxis.push({
      type: 'value', gridIndex: i, min: p.xr[0], max: p.xr[1],
      axisLine: { show: false, onZero: false },
      axisTick: { show: true, length: 3, lineStyle: { color: '#333333', width: 1 }, customValues: xTicks },
      axisLabel: { customValues: xTicks, color: '#4d4d4d', fontSize: 12, fontFamily: FONT, margin: 5, formatter: fmtNum },
      splitLine: { show: false }, minorSplitLine: { show: false },
    });
    yAxis.push({
      type: 'value', gridIndex: i, min: Y_RANGE[0], max: Y_RANGE[1],
      axisLine: { show: false, onZero: false },
      axisTick: { show: true, length: 3, lineStyle: { color: '#333333', width: 1 }, customValues: yTicks },
      axisLabel: { customValues: yTicks, color: '#4d4d4d', fontSize: 12, fontFamily: FONT, margin: 5, formatter: fmtNum },
      splitLine: { show: false }, minorSplitLine: { show: false },
    });
    // panel grid lines + cut-off lines
    series.push({
      type: 'custom', xAxisIndex: i, yAxisIndex: i, silent: true, z: 1,
      data: gridLineData,
      renderItem: (params: any, api: any) => {
        const cs = params.coordSys;
        const v = api.value(0), orient = api.value(1), kind = api.value(2);
        let shape;
        if (orient === 0) {
          const px = api.coord([v, 0])[0];
          if (px < cs.x - 0.5 || px > cs.x + cs.width + 0.5) return null;
          shape = { x1: px, y1: cs.y, x2: px, y2: cs.y + cs.height };
        } else {
          const py = api.coord([p.xr[0], v])[1];
          if (py < cs.y - 0.5 || py > cs.y + cs.height + 0.5) return null;
          shape = { x1: cs.x, y1: py, x2: cs.x + cs.width, y2: py };
        }
        const style =
          kind === 2 ? { stroke: '#fbb07a', lineWidth: 1.1, lineDash: [4, 3] }
          : kind === 1 ? { stroke: '#e3eaed', lineWidth: 1 }
          : { stroke: '#eef3f5', lineWidth: 0.6 };
        return { type: 'line', shape, style, z2: kind === 2 ? 5 : 0 };
      },
    });
    if (p.kind === 'scatter') {
      series.push({
        type: 'scatter', xAxisIndex: i, yAxisIndex: i, silent: true, z: 3,
        symbol: 'circle', symbolSize: 2.3, itemStyle: { color: '#000000' },
        data: p.pts,
      });
      const labs = p.labels!;
      series.push({
        type: 'custom', xAxisIndex: i, yAxisIndex: i, silent: true, z: 4,
        data: labs.map((l) => [l.a, l.m]),
        renderItem: (params: any, api: any) => {
          const l = labs[params.dataIndex];
          const pt = api.coord([l.a, l.m]);
          const t = api.coord([l.la, l.lm]);
          const children: any[] = [];
          if (l.sa !== null && l.sm !== null) {
            const s = api.coord([l.sa, l.sm]);
            children.push({ type: 'line', shape: { x1: s[0], y1: s[1], x2: pt[0], y2: pt[1] }, style: { stroke: l.color, lineWidth: 1.3 } });
          }
          children.push({ type: 'circle', shape: { cx: pt[0], cy: pt[1], r: 2.8 }, style: { fill: l.color } });
          children.push({
            type: 'text', x: t[0], y: t[1],
            style: { text: l.gene, fill: l.color, fontSize: 12, fontFamily: FONT, align: 'center', verticalAlign: 'middle' },
          });
          return { type: 'group', children };
        },
      });
    } else {
      const bands = p.bands!;
      series.push({
        type: 'custom', xAxisIndex: i, yAxisIndex: i, silent: true, z: 3,
        data: bands.map((b) => [b[0]]),
        renderItem: (params: any, api: any) => {
          const b = bands[params.dataIndex];
          const points = b[1].map((q) => api.coord(q));
          return { type: 'polygon', shape: { points, smooth: 0.35 }, style: { fill: levelColor(b[0]) } };
        },
      });
    }
  });

  // colour bar
  const cbIndex = panels.length;
  grid.push({ left: 699, top: 209, width: 24, height: 114, show: false, containLabel: false, outerBoundsMode: 'none' });
  xAxis.push({ type: 'value', gridIndex: cbIndex, min: 0, max: 1, show: false });
  yAxis.push({
    type: 'value', gridIndex: cbIndex, min: LEVEL_MIN, max: LEVEL_MAX, position: 'right', z: 10,
    axisLine: { show: false },
    axisTick: { show: true, inside: true, length: 5, lineStyle: { color: '#ffffff', width: 1 }, customValues: levelTicks },
    axisLabel: { customValues: levelTicks, color: '#4d4d4d', fontSize: 12, fontFamily: FONT, margin: 7, formatter: (v: number) => v.toFixed(3) },
    splitLine: { show: false },
  });
  yAxis.push({
    type: 'value', gridIndex: cbIndex, min: LEVEL_MIN, max: LEVEL_MAX, position: 'left', z: 10,
    axisLine: { show: false },
    axisTick: { show: true, inside: true, length: 5, lineStyle: { color: '#ffffff', width: 1 }, customValues: levelTicks },
    axisLabel: { show: false },
    splitLine: { show: false },
  });
  series.push({
    type: 'custom', xAxisIndex: cbIndex, yAxisIndex: cbIndex, silent: true, z: 2,
    data: [[0.5, LEVEL_MIN]],
    renderItem: (params: any, api: any) => {
      const a = api.coord([0, LEVEL_MAX]);
      const b = api.coord([1, LEVEL_MIN]);
      const stops = levelStops.map(([v, c]) => ({ offset: (v - LEVEL_MIN) / (LEVEL_MAX - LEVEL_MIN), color: c }));
      return {
        type: 'rect', shape: { x: a[0], y: a[1], width: b[0] - a[0], height: b[1] - a[1] },
        style: { fill: new echarts.graphic.LinearGradient(0, 1, 0, 0, stops) },
      };
    },
  });

  const graphic: any[] = [
    { type: 'rect', shape: { x: 0, y: 0, width: 10, height: 171 }, style: { fill: '#b0ee8a' }, silent: true },
    { type: 'rect', shape: { x: 0, y: 172, width: 10, height: 169 }, style: { fill: '#939ef2' }, silent: true },
    { type: 'rect', shape: { x: 0, y: 342, width: 10, height: 173 }, style: { fill: '#f88680' }, silent: true },
    ...titles.map((t) => ({
      type: 'text', x: t.x, y: t.y, silent: true,
      style: { text: t.text, fill: '#1a1a1a', fontSize: 10.8, fontStyle: t.italic ? 'italic' : 'normal', fontFamily: FONT, align: 'center', verticalAlign: 'middle' },
    })),
    { type: 'text', x: 25, y: 255, rotation: Math.PI / 2, silent: true, style: { text: 'M', fill: '#1a1a1a', fontSize: 13, fontFamily: FONT, align: 'center', verticalAlign: 'middle' } },
    { type: 'text', x: 365, y: 508, silent: true, style: { text: 'A', fill: '#1a1a1a', fontSize: 13, fontFamily: FONT, align: 'center', verticalAlign: 'middle' } },
    { type: 'text', x: 699, y: 195, silent: true, style: { text: 'Level', fill: '#1a1a1a', fontSize: 13.5, fontFamily: FONT, align: 'left', verticalAlign: 'middle' } },
  ];

  return {
    animation: false,
    backgroundColor: '#ffffff',
    textStyle: { fontFamily: FONT },
    tooltip: { show: false },
    grid, xAxis, yAxis, series, graphic,
  };
}

export default function App() {
  const ref = useRef<HTMLDivElement>(null);
  useEffect(() => {
    const chart = echarts.init(ref.current!, null, { renderer: 'svg' });
    chart.setOption(buildOption() as any);
    return () => chart.dispose();
  }, []);
  return <div ref={ref} style={{ position: 'absolute', left: 0, top: 0, width: 768, height: 515, background: '#fff' }} />;
}
